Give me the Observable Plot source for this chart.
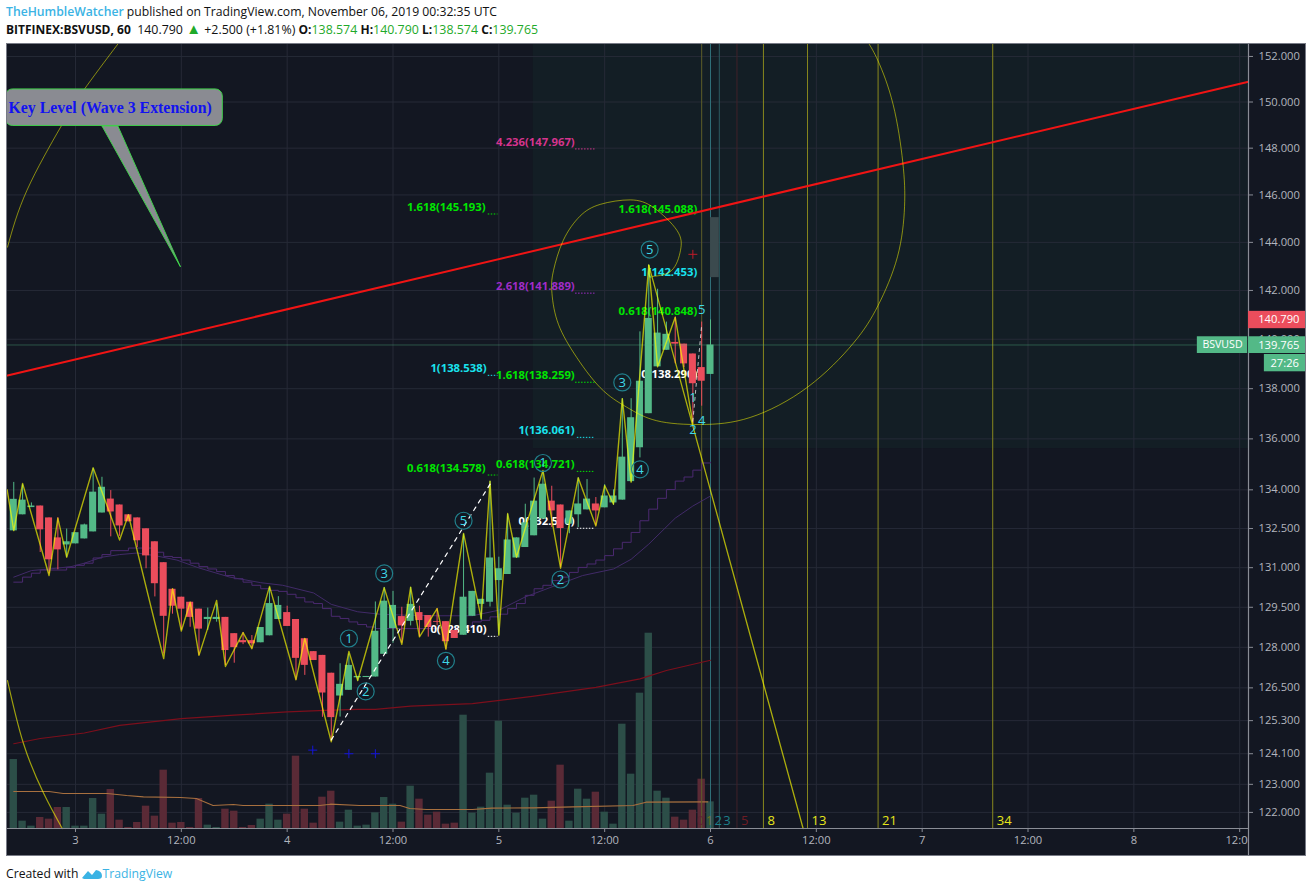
<!DOCTYPE html>
<html><head><meta charset="utf-8">
<script src="https://cdn.jsdelivr.net/npm/d3@7"></script>
<script src="https://cdn.jsdelivr.net/npm/@observablehq/plot@0.6"></script>
<style>
html,body{margin:0;padding:0;background:#fff;width:1311px;height:892px;overflow:hidden;font-family:"Open Sans",sans-serif}
#h1,#h2,#cap{position:absolute;white-space:nowrap;color:#111;font-size:12.2px}
#h1{left:6px;top:3px}#h2{left:6px;top:21px;font-size:12.4px}
#h1 .u{color:#3bb3e4;font-weight:600}
#h2 b{font-weight:700;font-size:12px}#h2 .g{color:#1faa2a}#h2 .tri{font-size:15px;line-height:10px}
#cap{left:6px;top:865px}#cap .t{color:#3bb3e4}
#chart{position:absolute;left:7px;top:44px;outline:1.5px solid #787b86}
#chart svg{display:block}
</style></head><body>
<div id="h1"><span class="u">TheHumbleWatcher</span> published on TradingView.com, November 06, 2019 00:32:35 UTC</div>
<div id="h2"><b>BITFINEX:BSVUSD, 60</b>&nbsp; 140.790 <span class="g tri">▲</span> +2.500 (+1.81%) <b>O:</b><span class="g">138.574</span> <b>H:</b><span class="g">140.790</span> <b>L:</b><span class="g">138.574</span> <b>C:</b><span class="g">139.765</span></div>
<div id="chart"></div>
<div id="cap">Created with <svg width="22" height="12" viewBox="0 0 22 12" style="vertical-align:-2px;margin-left:-1px"><path d="M1 10 L7 3 L11 7 L15 2 Q21 3 21 8 Q21 11 17 11 L3 11 Z" fill="#3bb3e4"/></svg><span class="t">TradingView</span></div>
<script>
// Hourly candles, first bar = 2 Nov 17:00
const opens=[132.41,133.03,133.31,133.37,132.91,132.14,131.87,131.91,132.1,132.37,133.1,133.64,133.41,133.03,132.91,132.49,131.99,131.19,130.18,129.88,129.69,129.43,129.04,129.04,129.12,128.51,128.25,128.25,128.17,128.43,129.04,129.3,129.04,128.32,127.84,127.7,127.04,126.2,126.41,126.87,126.88,126.9,127.74,128.7,129.15,128.97,129.3,129.19,128.96,128.96,128.63,128.45,129.16,129.61,129.69,130.51,130.74,131.37,131.77,132.22,132.87,133.56,133.41,132.67,133.03,133.22,133.45,133.3,133.49,133.6,134.32,135.65,137,138.88,139.55,139.87,139.8,139.4,138.85,138.574];
const highs=[134.29,134.2,133.49,133.37,132.91,132.92,132.48,132.34,132.67,134.84,134.49,133.97,133.41,133.03,132.91,132.49,131.99,131.19,130.18,129.88,129.69,129.43,129.47,129.62,129.12,128.51,128.55,128.44,128.74,130.25,129.9,129.54,129.04,128.32,127.84,127.7,127.04,127.39,127.75,126.92,126.92,129.7,130.25,130.1,129.5,130.25,129.54,129.19,129.45,128.96,128.63,132.28,130.1,129.8,134.33,131.4,133.05,132.14,133.44,134.46,134.72,134.14,133.41,133.18,134.46,134.4,133.7,134.2,134,137.6,137.6,140.3,143.05,142.05,140.7,140.9,139.8,139.4,140.7,140.79];
const lows=[132.41,133.03,133.31,131.58,130.76,130.92,131.39,131.91,132.1,132.37,133.1,132.18,132.2,132.76,131.77,130.96,129.89,127.75,129.24,128.63,128.75,127.7,128.63,128.94,127.33,127.41,128.1,127.94,128.17,128.43,129.04,128.78,126.78,126.96,127.51,125.42,124.55,125.43,126.41,126.75,126.88,126.9,127.74,128.15,128.15,128.8,128.38,128.38,128.8,127.92,128.33,128.45,129.16,129.01,129.51,128.45,130.74,131.37,131.77,132.22,132.87,132.54,131,132.3,132.54,133.22,132.6,133.3,133.4,133.6,134.3,135.25,137,138.88,139.55,139,138.85,136.6,137.3,138.574];
const closes=[133.63,133.6,133.37,132.45,131.3,131.68,131.99,132.34,132.64,133.91,134.1,133.14,132.6,132.76,132.03,131.45,130.39,129.16,129.54,129.43,129.12,128.68,129.12,129.12,127.88,127.99,128.17,128.13,128.74,129.64,129.57,128.78,127.59,127.33,127.51,126.31,125.41,126.63,127.33,126.92,126.92,128.6,129.73,129.57,128.8,129.61,129,128.74,128.93,128.21,128.33,129.88,130.1,129.8,131.37,130.96,132.06,132.14,132.72,133.56,134.22,133.18,132.5,133.18,133.45,133.64,133.18,133.76,133.76,135.28,136.84,138.3,140.85,140.25,140.2,139.8,139,138.2,138.3,139.765];
const volumes=[207,22,7,33,28,63,63,7,7,90,43,117,25,3,18,67,37,175,16,18,3,90,10,3,58,52,3,9,28,73,25,43,217,58,16,94,112,19,55,7,10,47,93,73,19,127,88,40,49,13,16,340,46,64,166,322,70,46,91,100,28,82,190,22,118,88,109,49,13,313,163,406,586,112,91,34,25,55,148,80];

const zigBar=[-0.75,0,1,4,5,6,9,12,13,17,18,19,20,21,23,24,26,27,29,32,33,36,38,39,42,44,45,46,48,49,51,53,54,55,56,57,60,62,64,66,67,68,69,70,72,73,75,77];
const zigPrice=[134,132.42,134.25,130.7,132.9,131.4,134.86,132.06,133.03,127.58,130.2,128.61,129.69,127.7,129.76,127.29,128.55,127.95,130.29,126.8,128.33,124.53,127.85,126.77,130.24,128.11,130.26,128.39,129.45,127.93,132.31,129.08,134.34,128.45,133.08,131.4,134.76,130.98,134.47,132.6,134.17,133.44,137.6,134.3,143.05,138.88,140.9,136.6];

const stepBar=[0,1,2,3,6,7,8,9,10,11,13,15,16,17,18,19,20,21,22,23,24,25,26,27,28,29,30,31,32,33,34,35,36,37,38,39,40,41,44,48,51,52,53,54,55,56,57,58,59,60,61,62,63,64,65,66,67,68,69,70,71,72,73,74,75,76,77,78,79];
const stepPrice=[130.45,130.64,130.79,130.91,131.01,131.09,131.17,131.37,131.5,131.65,131.75,131.75,131.59,131.43,131.39,131.29,131.17,131.04,130.95,130.85,130.7,130.58,130.45,130.33,130.2,130.14,130.1,129.99,129.86,129.7,129.64,129.45,129.16,129.08,128.95,128.85,128.76,128.7,128.7,128.72,128.8,128.95,129.01,129.14,129.24,129.45,129.64,129.95,130.2,130.33,130.51,130.64,130.82,131.01,131.14,131.29,131.46,131.72,131.97,132.35,132.8,133.25,133.67,134.01,134.34,134.5,134.77,135.05,135.08];
const smoothBar=[0,2,4,6.5,8,10,12,14,16,18.5,21,24.5,28,30.5,34,36,39,41.5,44.5,48,52,55,58,61.5,64.5,68,70,72,75,77,79];
const smoothPrice=[130.64,130.89,130.95,131.04,131.17,131.4,131.5,131.56,131.46,131.29,130.99,130.64,130.43,130.33,130.04,129.61,129.33,129.24,129.2,129.18,129.18,129.39,129.89,130.33,130.7,130.95,131.32,131.9,132.9,133.37,133.76];
const maBar=[0,3,8,12,19,25,31,36,39,41,45,52,58.8,66,71,74,79];
const maPrice=[124.46,124.65,124.85,125.13,125.37,125.5,125.62,125.68,125.71,125.71,125.83,125.92,126.19,126.52,126.83,127.14,127.52];
const volMaBar=[0,4,5.6,10.6,12.8,14.7,18.9,20.7,22.6,24.9,26,34.7,35.9,39.2,43.8,44.9,46.8,52,54.2,58.9,63.4,70.2,71.7,78.7];
const volMa=[111,111,105,105,99,95,93,90,69,72,69,69,73,69,69,60,57,57,61,62,65,69,79,80];

const spiralBar=[72.4,74.6,75.6,75.2,72.6,69.9,66.5,64.2,62.3,61.2,61,61.6,63.5,66.5,69.5,72.9,77.9,83.5,90,95.2,98,100.2,101,100.8,99.7,98,96.9];
const spiralPrice=[142.58,142.83,143.67,144.5,145.45,145.79,145.6,145.1,144.08,142.83,142,140.77,139.44,138.04,137.26,136.72,136.57,136.85,138.06,139.84,141.38,143.4,145.5,147.4,149.9,151.8,152.6];
const arcTopBar=[-0.71,1.5,5.3,7.9,11.9];
const arcTopPrice=[143.8,146.2,148.9,150.5,152.6];
const arcLowBar=[-0.71,1.1,3.4,5.5];
const arcLowPrice=[126.77,124.47,122.67,121.43];

const trendBar=[-0.71,140];
const trendPrice=[138.53,150.89];
const fallBar=[72,89.5];
const fallPrice=[143.05,121.43];
const dashBar=[36,54.2];
const dashPrice=[124.6,134.33];
const dash2Bar=[77,78];
const dash2Price=[136.7,140.6];

const priceTicks=[122,123,124.1,125.3,126.5,128,129.5,131,132.5,134,136,138,140,142,144,146,148,150,152];
const timeTicks=[7,19,31,43,55,67,79,91,103,115,127,139];
const timeLabels=["3","12:00","4","12:00","5","12:00","6","12:00","7","12:00","8","12:00"];

const fibText=["4.236(147.967)","1.618(145.193)","1.618(145.088)","1(142.453)","2.618(141.889)","0.618(140.848)","1(138.538)","1.618(138.259)","0(138.290)","1(136.061)","0.618(134.578)","0.618(134.721)","0(132.510)","0(128.410)"];
const fibPrice=[147.967,145.193,145.088,142.453,141.889,140.848,138.538,138.259,138.29,136.061,134.578,134.721,132.51,128.41];
const fibEnd=[63.6,53.5,77.5,77.5,63.6,77.5,53.6,63.6,77.5,63.6,53.5,63.6,63.6,53.6];
const fibColor=["#d5348d","#00e600","#00e600","#19e3ee","#a02cc8","#00e600","#19e3ee","#00e600","#ffffff","#19e3ee","#00e600","#00e600","#ffffff","#ffffff"];
const dotFrom=[63.7,53.8,null,null,63.7,null,53.8,63.7,null,63.9,53.8,63.9,63.9,53.8];
const dotTo=[65.9,54.9,null,null,65.9,null,54.9,65.9,null,65.9,54.9,65.9,65.9,54.9];

const waveText=["1","2","3","4","5","1","2","3","4","5"];
const waveBar=[38,39.9,42,49,51,60,62,69,71,72.1];
const wavePrice=[128.33,126.37,130.78,127.5,132.8,135.05,130.55,138.25,134.8,143.7];
const tinyText=["5","1","2","4"];
const tinyBar=[78,77,77,78];
const tinyPrice=[141.2,137.65,136.35,136.7];

const zoneOffset=[0,1,2,3,5,8,13,21,34];
const zoneColor=["none","#5e5e28","#2f6f78","#2b5a60","#40222a","#88881e","#88881e","#88881e","#88881e"];
const zoneLabelColor=["#5c2430","#6f6f1e","#1d7f8a","#1d7f8a","#6e1c24","#e6e61a","#e6e61a","#e6e61a","#e6e61a"];

const blueBar=[33.9,38,41];
const bluePrice=[124.23,124.1,124.1];
const tailBar=[10,11.8,18.9,10];
const tailPrice=[148.96,148.96,142.98,148.96];

const up="#53b987",down="#eb4d5c",bg="#131722",gridc="#262a37";
const bars=d3.range(closes.length);
const vol=v=>121.43*Math.exp(v/10317);   // volume pane: linear in pixels on the log price axis
const pts=(xs,ys)=>xs.map((x,i)=>({x,y:ys[i]}));
const dir=i=>closes[i]>=opens[i];
const fibs=fibText.map((t,i)=>({t,i}));
const sans="Open Sans";

const chart=Plot.plot({
  width:1298,height:811,marginLeft:0,marginRight:57,marginTop:0,marginBottom:27,
  style:{background:bg,overflow:"hidden"},
  x:{type:"linear",domain:[-0.71,140],axis:null},
  y:{type:"log",domain:[121.43,152.53],axis:null},
  color:{type:"identity"},
  marks:[
    Plot.rect([0],{x1:58.9,x2:140,y1:135.62,y2:152.53,fill:"#131e25"}),
    Plot.ruleY(priceTicks,{stroke:gridc}),
    Plot.ruleX(timeTicks,{stroke:gridc}),
    Plot.rect(bars,{x1:i=>i-.42,x2:i=>i+.42,y1:()=>121.43,y2:i=>vol(volumes[i]),fill:i=>dir(i)?"#2c4e48":"#5a2a36"}),
    Plot.line(pts(volMaBar,volMa),{x:"x",y:d=>vol(d.y),stroke:"#a8703f",strokeWidth:1.1}),
    Plot.ruleX(zoneOffset.map((n,k)=>({n,k})),{x:d=>77+d.n,y1:121.43,y2:152.53,stroke:d=>zoneColor[d.k]}),
    Plot.text(zoneOffset.map((n,k)=>({n,k})),{x:d=>77+d.n,y:121.7,text:d=>String(d.n),fill:d=>zoneLabelColor[d.k],textAnchor:"start",dx:4,fontSize:13,fontFamily:sans}),
    Plot.line(pts(maBar,maPrice),{x:"x",y:"y",stroke:"#7c0f1c",strokeWidth:1.2}),
    Plot.line(pts(stepBar,stepPrice),{x:"x",y:"y",curve:"step-after",stroke:"#4b2a70",strokeWidth:1}),
    Plot.line(pts(smoothBar,smoothPrice),{x:"x",y:"y",stroke:"#412a68",strokeWidth:1}),
    Plot.ruleY(fibs.filter(d=>dotFrom[d.i]!=null),{y:d=>fibPrice[d.i],x1:d=>dotFrom[d.i],x2:d=>dotTo[d.i],stroke:d=>fibColor[d.i],strokeDasharray:"1.5,1.5"}),
    Plot.text(fibs,{x:d=>fibEnd[d.i],y:d=>fibPrice[d.i],text:"t",fill:d=>fibColor[d.i],textAnchor:"end",dy:-7,fontSize:11.3,fontWeight:700,fontFamily:sans}),
    Plot.ruleX(bars,{x:i=>i,y1:i=>lows[i],y2:i=>highs[i],stroke:i=>dir(i)?up:down}),
    Plot.rect(bars,{x1:i=>i-.4,x2:i=>i+.4,y1:i=>Math.min(opens[i],closes[i]),y2:i=>Math.max(opens[i],closes[i]),fill:i=>dir(i)?up:down}),
    Plot.ruleY([139.765],{x1:-0.71,x2:134.2,stroke:up,strokeOpacity:.38}),
    Plot.line(pts(trendBar,trendPrice),{x:"x",y:"y",stroke:"#f01414",strokeWidth:2}),
    Plot.line(pts(spiralBar,spiralPrice),{x:"x",y:"y",curve:"natural",stroke:"#ffff00",strokeOpacity:.5,strokeWidth:1}),
    Plot.line(pts(arcTopBar,arcTopPrice),{x:"x",y:"y",curve:"natural",stroke:"#ffff00",strokeOpacity:.5,strokeWidth:1}),
    Plot.line(pts(arcLowBar,arcLowPrice),{x:"x",y:"y",curve:"natural",stroke:"#ffff00",strokeOpacity:.6,strokeWidth:1.2}),
    Plot.line(pts(zigBar,zigPrice),{x:"x",y:"y",stroke:"#ffff00",strokeOpacity:.65,strokeWidth:1.4}),
    Plot.line(pts(fallBar,fallPrice),{x:"x",y:"y",stroke:"#ffff00",strokeOpacity:.65,strokeWidth:1.3}),
    Plot.line(pts(dashBar,dashPrice),{x:"x",y:"y",stroke:"#fff",strokeDasharray:"4,5",strokeWidth:1.2}),
    Plot.line(pts(dash2Bar,dash2Price),{x:"x",y:"y",stroke:"#fff",strokeOpacity:.7,strokeDasharray:"3,4",strokeWidth:1}),
    Plot.dot(waveText.map((t,i)=>i),{x:i=>waveBar[i],y:i=>wavePrice[i],r:8.5,stroke:"#21808c",strokeWidth:1.2}),
    Plot.text(waveText.map((t,i)=>i),{x:i=>waveBar[i],y:i=>wavePrice[i],text:i=>waveText[i],fill:"#3fd8e8",fontSize:13,fontFamily:sans}),
    Plot.text(tinyText.map((t,i)=>i),{x:i=>tinyBar[i],y:i=>tinyPrice[i],text:i=>tinyText[i],fill:"#3fd8e8",fontSize:13,fontFamily:sans}),
    Plot.dot(pts(blueBar,bluePrice),{x:"x",y:"y",symbol:"plus",r:3,stroke:"#1414d8",strokeWidth:1}),
    Plot.dot([0],{x:()=>77,y:()=>143.5,symbol:"plus",r:3,stroke:"#c01b2a",strokeWidth:1}),
    Plot.rect([0],{x1:79,x2:80,y1:142.53,y2:145.04,fill:"#3b4a4e"}),
    Plot.line(pts(tailBar,tailPrice),{x:"x",y:"y",fill:"#8a8b92",stroke:"#3fd24a",strokeWidth:1}),
    Plot.rect([0],{x1:-0.9,x2:23.7,y1:148.96,y2:150.55,fill:"#8a8b92",stroke:"#3fd24a",strokeWidth:1,r:7}),
    Plot.text(["Key Level (Wave 3 Extension)"],{x:-0.6,y:149.76,text:d=>d,textAnchor:"start",fill:"#1212f0",fontFamily:"Liberation Serif",fontWeight:700,fontSize:15.85}),
    Plot.ruleY([121.43],{x1:-0.71,x2:140,stroke:"#8a8d96",strokeWidth:1.2}),
    Plot.axisX(timeTicks,{anchor:"bottom",tickFormat:(d,i)=>timeLabels[i],label:null,tickSize:4,tickPadding:4,stroke:"#8a8d96",fill:"#b2b5be",fontSize:11.2,fontFamily:sans}),
    Plot.rect([0],{x1:140,x2:146.5,y1:120.3,y2:152.53,fill:bg}),
    Plot.ruleX([140],{y1:120.3,y2:152.53,stroke:"#8a8d96",strokeWidth:1.2}),
    Plot.axisY(priceTicks,{anchor:"right",tickFormat:d3.format(".3f"),label:null,tickSize:4,tickPadding:6,stroke:"#8a8d96",fill:"#b2b5be",fontSize:11.2,fontFamily:sans}),
    Plot.rect([0],{x1:140,x2:146.5,y1:140.43,y2:141.14,fill:down}),
    Plot.text(["140.790"],{x:141.1,y:140.79,text:d=>d,textAnchor:"start",fill:"#fff",fontSize:11.2,fontFamily:sans}),
    Plot.rect([0],{x1:140,x2:146.5,y1:139.42,y2:140.1,fill:up}),
    Plot.text(["139.765"],{x:141.1,y:139.765,text:d=>d,textAnchor:"start",fill:"#fff",fontSize:11.2,fontFamily:sans}),
    Plot.rect([0],{x1:134.2,x2:139.9,y1:139.42,y2:140.1,fill:up}),
    Plot.text(["BSVUSD"],{x:137.05,y:139.765,text:d=>d,fill:"#fff",fontSize:10.6,fontFamily:sans}),
    Plot.rect([0],{x1:141.8,x2:146.5,y1:138.68,y2:139.38,fill:up}),
    Plot.text(["27:26"],{x:144.1,y:139.03,text:d=>d,fill:"#fff",fontSize:11.2,fontFamily:sans})
  ]
});
document.getElementById("chart").append(chart);
</script>
</body></html>
